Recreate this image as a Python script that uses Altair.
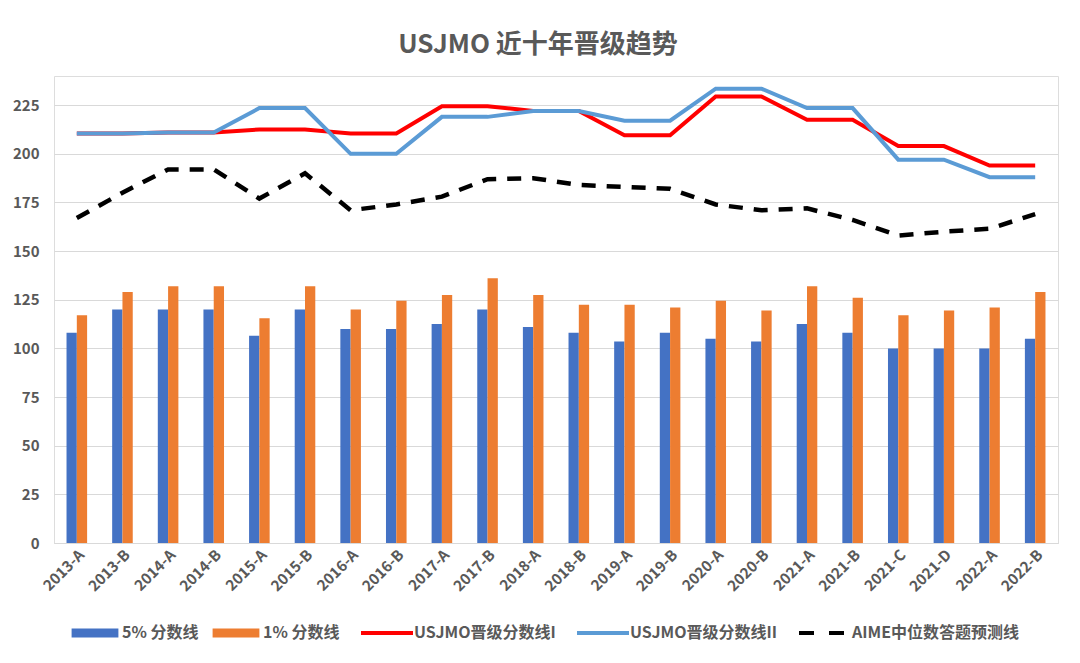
import altair as alt
import pandas as pd

categories = ["2013-A", "2013-B", "2014-A", "2014-B", "2015-A", "2015-B", "2016-A", "2016-B",
              "2017-A", "2017-B", "2018-A", "2018-B", "2019-A", "2019-B", "2020-A", "2020-B",
              "2021-A", "2021-B", "2021-C", "2021-D", "2022-A", "2022-B"]
cut_5pct = [108, 120, 120, 120, 106.5, 120, 110, 110, 112.5, 120, 111, 108,
            103.5, 108, 105, 103.5, 112.5, 108, 100, 100, 100, 105]
cut_1pct = [117, 129, 132, 132, 115.5, 132, 120, 124.5, 127.5, 136, 127.5, 122.5,
            122.5, 121, 124.5, 119.5, 132, 126, 117, 119.5, 121, 129]
jmo_line_1 = [210.5, 210.5, 211, 211, 212.5, 212.5, 210.5, 210.5, 224.5, 224.5, 222, 222,
              209.5, 209.5, 229.5, 229.5, 217.5, 217.5, 204, 204, 194, 194]
jmo_line_2 = [210.5, 210.5, 211, 211, 223.5, 223.5, 200, 200, 219, 219, 222, 222,
              217, 217, 233.5, 233.5, 223.5, 223.5, 197, 197, 188, 188]
aime_median = [167, 180, 192, 192, 177, 190, 171, 174, 178, 187, 187.5, 184,
               183, 182, 174, 171, 172, 166, 158, 160, 161.5, 169]

series_names = ["5% 分数线", "1% 分数线", "USJMO晋级分数线I", "USJMO晋级分数线II", "AIME中位数答题预测线"]
series_colors = ["#4472C4", "#ED7D31", "#FF0000", "#5B9BD5", "#000000"]

FONT = "Noto Sans CJK SC"
GRAY = "#595959"
GRID = "#D9D9D9"

bars_df = pd.DataFrame({
    "cat": categories * 2,
    "series": [series_names[0]] * len(categories) + [series_names[1]] * len(categories),
    "value": cut_5pct + cut_1pct,
})
red_df = pd.DataFrame({"cat": categories, "series": series_names[2], "value": jmo_line_1})
blue_df = pd.DataFrame({"cat": categories, "series": series_names[3], "value": jmo_line_2})
black_df = pd.DataFrame({"cat": categories, "series": series_names[4], "value": aime_median})

color_scale = alt.Scale(domain=series_names, range=series_colors)

is_bar = "indexof(['5% 分数线', '1% 分数线'], datum.value) >= 0"
legend = alt.Legend(
    title=None, orient="none", legendX=33, legendY=549, direction="horizontal", columns=5,
    symbolSize=2704, labelOffset=19, columnPadding=13, padding=0,
    labelFont=FONT, labelFontSize=16, labelFontWeight="bold", labelColor=GRAY, labelLimit=400,
    symbolType=alt.ExprRef(expr=f"{is_bar} ? 'M-0.9,-0.17H0.9V0.17H-0.9Z' : 'stroke'"),
    symbolFillColor=alt.ExprRef(expr=f"{is_bar} ? scale('color', datum.value) : 'transparent'"),
    symbolStrokeColor=alt.ExprRef(expr=f"{is_bar} ? 'transparent' : scale('color', datum.value)"),
    symbolStrokeWidth=alt.ExprRef(expr=f"{is_bar} ? 0 : 4"),
    symbolDash=alt.ExprRef(expr="datum.value === 'AIME中位数答题预测线' ? [15, 15] : [1, 0]"),
    symbolOpacity=1,
)

x_enc = alt.X("cat:N", sort=categories,
              scale=alt.Scale(paddingInner=0.549, paddingOuter=0.2745),
              axis=alt.Axis(title=None, labelAngle=-45, labelFont=FONT, labelFontSize=15,
                            labelFontWeight="bold", labelColor=GRAY, ticks=False,
                            domainColor=GRID, labelPadding=4))
y_enc = alt.Y("value:Q", scale=alt.Scale(domain=[0, 240], nice=False, zero=True),
              axis=alt.Axis(title=None, values=list(range(0, 226, 25)), labelFont=FONT,
                            labelFontSize=15, labelFontWeight="bold", labelColor=GRAY,
                            ticks=False, domain=False, gridColor=GRID, labelPadding=15))

bars = alt.Chart(bars_df).mark_bar().encode(
    x=x_enc, y=y_enc,
    xOffset=alt.XOffset("series:N", sort=series_names[:2], scale=alt.Scale(paddingInner=0, paddingOuter=0)),
    color=alt.Color("series:N", scale=color_scale, legend=legend),
)

def line_layer(df, dash=None, width=4):
    kw = dict(strokeWidth=width)
    if dash:
        kw["strokeDash"] = dash
    return alt.Chart(df).mark_line(**kw).encode(
        x=alt.X("cat:N", sort=categories), y=alt.Y("value:Q"),
        color=alt.Color("series:N", scale=color_scale, legend=legend),
    )

chart = alt.layer(
    bars,
    line_layer(red_df),
    line_layer(blue_df),
    line_layer(black_df, dash=[14, 11], width=4.5),
).properties(
    width=1004, height=467,
    autosize="none",
    padding={"left": 46, "top": 68, "right": 14, "bottom": 100},
    title=alt.TitleParams("USJMO 近十年晋级趋势", font=FONT, fontSize=26, fontWeight="bold",
                          color=GRAY, anchor="middle", offset=18, dx=-18),
).configure_view(strokeWidth=0).configure(background="white")

chart.save("out.html", embed_options={"renderer": "svg", "actions": False})
